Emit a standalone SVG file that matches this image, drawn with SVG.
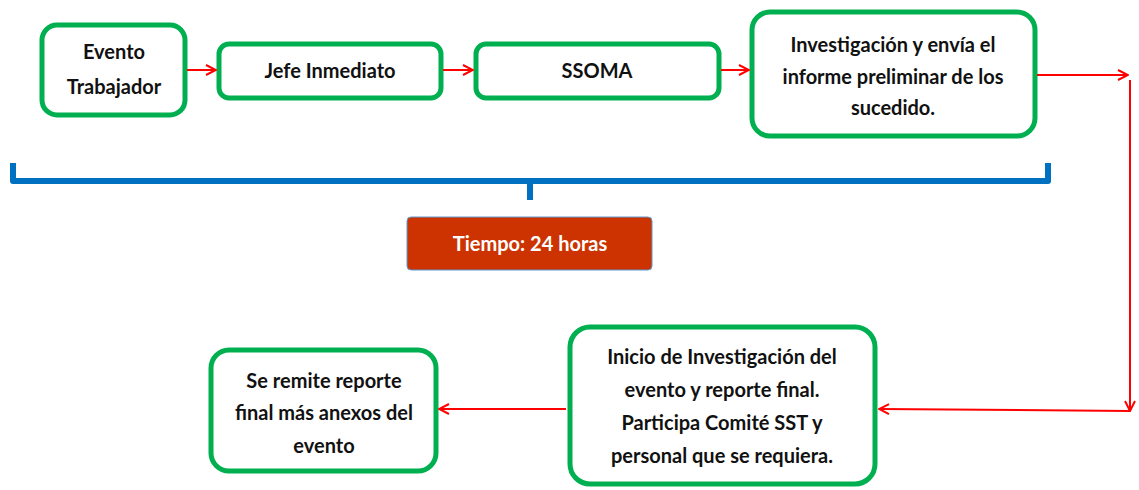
<svg xmlns="http://www.w3.org/2000/svg" width="1139" height="490" viewBox="0 0 1139 490">
<style>
.box{fill:#fff;stroke:#00B050;stroke-width:5}
.t{font-family:"Liberation Sans Narrow","Lato",sans-serif;font-weight:bold;font-size:20px;fill:#111;text-anchor:middle}
.c{fill:none;stroke:#FF0000;stroke-width:2}
</style>
<defs>
<marker id="ah" viewBox="0 0 12 12" refX="11" refY="6" markerWidth="12" markerHeight="12" markerUnits="userSpaceOnUse" orient="auto">
<path d="M1,1 L11,6 L1,11" fill="none" stroke="#FF0000" stroke-width="2"/>
</marker>
</defs>
<g id="n1"><rect class="box" x="42" y="25" width="143" height="90" rx="15"/><text class="t" x="114" y="59">Evento</text><text class="t" x="114" y="94">Trabajador</text></g>
<g id="n2"><rect class="box" x="219" y="44" width="222" height="54" rx="10"/><text class="t" x="330" y="78">Jefe Inmediato</text></g>
<g id="n3"><rect class="box" x="476" y="44" width="243" height="54" rx="10"/><text class="t" x="597" y="78">SSOMA</text></g>
<g id="n4"><rect class="box" x="752" y="12" width="283" height="124" rx="18"/><text class="t" x="893" y="52">Investigación y envía el</text><text class="t" x="893" y="84">informe preliminar de los</text><text class="t" x="893" y="115">sucedido.</text></g>
<g id="brace"><path d="M13,163 L13,181 L1048,181 L1048,163 M530,181 L530,200" fill="none" stroke="#0070C0" stroke-width="6" stroke-linejoin="round"/></g>
<g id="tiempo"><rect x="407" y="217" width="245" height="53" rx="4" fill="#CC3300" stroke="#5B9BD5" stroke-width="1"/><text class="t" x="530" y="251" style="fill:#fff">Tiempo: 24 horas</text></g>
<g id="n5"><rect class="box" x="570" y="327" width="305" height="157" rx="20"/><text class="t" x="722" y="364">Inicio de Investigación del</text><text class="t" x="722" y="397">evento y reporte final.</text><text class="t" x="722" y="430">Participa Comité SST y</text><text class="t" x="722" y="463">personal que se requiera.</text></g>
<g id="n6"><rect class="box" x="211" y="350" width="225" height="121" rx="18"/><text class="t" x="324" y="388">Se remite reporte</text><text class="t" x="324" y="420">final más anexos del</text><text class="t" x="324" y="453">evento</text></g>
<g id="connectors">
<path class="c" d="M187,70 L216,70" marker-end="url(#ah)"/>
<path class="c" d="M443,70 L473,70" marker-end="url(#ah)"/>
<path class="c" d="M721,70 L749,70" marker-end="url(#ah)"/>
<path class="c" d="M1037,75 L1128,75" marker-end="url(#ah)"/>
<path class="c" d="M1130,80 L1130,411" marker-end="url(#ah)"/>
<path class="c" d="M1130,411 L879,409" marker-end="url(#ah)"/>
<path class="c" d="M566,409 L439,409" marker-end="url(#ah)"/>
</g>
</svg>
